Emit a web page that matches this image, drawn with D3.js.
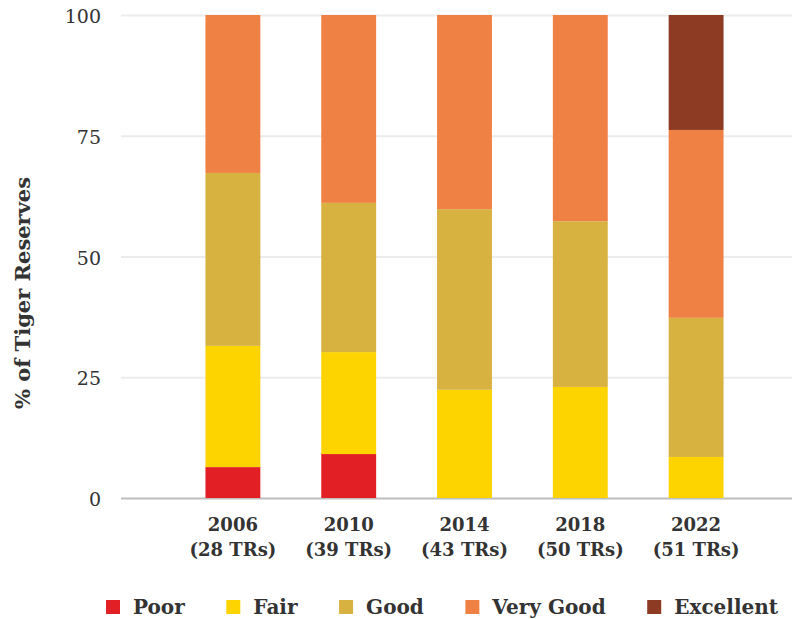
<!DOCTYPE html>
<html>
<head>
<meta charset="utf-8">
<script src="https://cdn.jsdelivr.net/npm/d3@7"></script>
<style>
  body { margin: 0; background: #fff; }
  text { font-family: Georgia, "DejaVu Serif", serif; fill: #333; }
</style>
</head>
<body>
<svg id="chart"></svg>
<script>
const svg_width = 792;
const svg_height = 619;

// data (% of tiger reserves per rating)
const years = ['2006', '2010', '2014', '2018', '2022'];
const reserves = ['(28 TRs)', '(39 TRs)', '(43 TRs)', '(50 TRs)', '(51 TRs)'];
const categories = ['Poor', 'Fair', 'Good', 'Very Good', 'Excellent'];
const poor = [6.4, 9.1, 0, 0, 0];
const fair = [25.1, 21.1, 22.4, 23.0, 8.5];
const good = [35.8, 30.9, 37.4, 34.3, 28.8];
const veryGood = [32.7, 38.9, 40.2, 42.7, 38.9];
const excellent = [0, 0, 0, 0, 23.8];
const yTicks = [0, 25, 50, 75, 100];
const colors = ['#e31f26', '#fdd300', '#d7b241', '#f08144', '#8e3b24'];

const series_values = [poor, fair, good, veryGood, excellent];

const svg = d3.select('#chart')
  .attr('width', svg_width)
  .attr('height', svg_height);

const margin = {top: 15, right: 38, bottom: 121, left: 175};

const x = d3.scaleBand()
  .domain(years)
  .range([margin.left, svg_width - margin.right])
  .paddingInner(0.526)
  .paddingOuter(0.263);

const y = d3.scaleLinear()
  .domain([0, 100])
  .range([svg_height - margin.bottom, margin.top]);

// rows for the stack
const table = years.map((yr, i) => {
  const row = {year: yr};
  categories.forEach((c, k) => { row[c] = series_values[k][i]; });
  return row;
});
const stacked = d3.stack().keys(categories)(table);

// gridlines
const grid = svg.append('g');
grid.selectAll('line')
  .data(yTicks)
  .enter().append('line')
  .attr('x1', 121)
  .attr('x2', svg_width)
  .attr('y1', d => y(d) + 0.5)
  .attr('y2', d => y(d) + 0.5)
  .attr('stroke', d => d === 0 ? '#bdbdbd' : '#ececec')
  .attr('stroke-width', 2);

// y tick labels
svg.append('g').selectAll('text')
  .data(yTicks)
  .enter().append('text')
  .attr('x', 101)
  .attr('y', d => y(d) + 8)
  .attr('text-anchor', 'end')
  .attr('font-size', '19px')
  .text(d => d);

// y axis title
svg.append('text')
  .attr('transform', `translate(30, 293) rotate(-90)`)
  .attr('text-anchor', 'middle')
  .attr('font-size', '21px')
  .attr('font-weight', 'bold')
  .text('% of Tiger Reserves');

// bars
const layers = svg.append('g').selectAll('g')
  .data(stacked)
  .enter().append('g')
  .attr('fill', (d, i) => colors[i]);

layers.selectAll('rect')
  .data(d => d)
  .enter().append('rect')
  .attr('x', d => x(d.data.year))
  .attr('width', x.bandwidth())
  .attr('y', d => y(d[1]))
  .attr('height', d => y(d[0]) - y(d[1]));

// x labels
const xl = svg.append('g').selectAll('text')
  .data(years)
  .enter().append('text')
  .attr('x', d => x(d) + x.bandwidth() / 2)
  .attr('text-anchor', 'middle')
  .attr('font-size', '18px')
  .attr('font-weight', 'bold');
xl.append('tspan').attr('x', d => x(d) + x.bandwidth() / 2).attr('y', 531).text(d => d);
xl.append('tspan').attr('x', d => x(d) + x.bandwidth() / 2).attr('y', 556).text((d, i) => reserves[i]);

// legend, spread over the same width as the reference
const legend = svg.append('g').attr('transform', 'translate(106, 607)');
const items = categories.map((c, i) => {
  const item = legend.append('g');
  item.append('rect').attr('x', 0).attr('y', -7).attr('width', 14).attr('height', 14).attr('fill', colors[i]);
  const t = item.append('text')
    .attr('x', 27)
    .attr('y', 7)
    .attr('font-size', '20px')
    .attr('font-weight', 'bold')
    .text(c);
  return {item, w: 27 + t.node().getComputedTextLength()};
});
const total = d3.sum(items, d => d.w);
const gap = (672 - total) / (items.length - 1);
let lx = 0;
items.forEach(d => {
  d.item.attr('transform', `translate(${lx}, 0)`);
  lx += d.w + gap;
});
</script>
</body>
</html>
